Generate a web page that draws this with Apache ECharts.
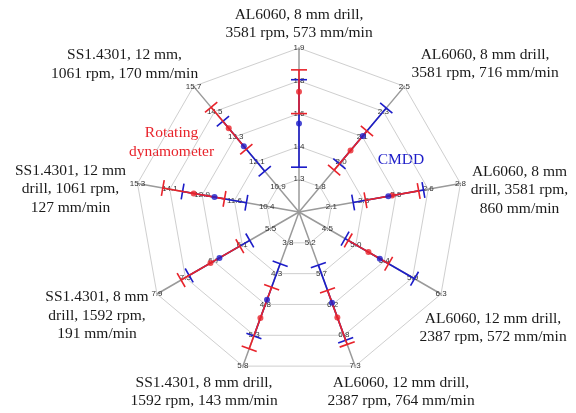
<!DOCTYPE html>
<html><head><meta charset="utf-8">
<script src="https://cdn.jsdelivr.net/npm/echarts@6/dist/echarts.min.js"></script>
<style>html,body{margin:0;padding:0;background:#fff}#c{width:576px;height:413px}</style>
</head><body><div id="c"></div>
<script>
// Axes in clockwise order starting at the top
const categories = [
  'AL6060, 8 mm drill,\n3581 rpm, 573 mm/min',
  'AL6060, 8 mm drill,\n3581 rpm, 716 mm/min',
  'AL6060, 8 mm\ndrill, 3581 rpm,\n860 mm/min',
  'AL6060, 12 mm drill,\n2387 rpm, 572 mm/min',
  'AL6060, 12 mm drill,\n2387 rpm, 764 mm/min',
  'SS1.4301, 8 mm drill,\n1592 rpm, 143 mm/min',
  'SS1.4301, 8 mm\ndrill, 1592 rpm,\n191 mm/min',
  'SS1.4301, 12 mm\ndrill, 1061 rpm,\n127 mm/min',
  'SS1.4301, 12 mm,\n1061 rpm, 170 mm/min'
];
const axisMin = [1.15, 1.6, 1.95, 4.05, 4.675, 3.3, 4.9, 9.175, 9.7];
const axisMax = [1.9, 2.5, 2.8, 6.3, 7.3, 5.8, 7.9, 15.3, 15.7];
const tickLabels = [
  ['1.3','1.4','1.6','1.8','1.9'],
  ['1.8','2.0','2.1','2.3','2.5'],
  ['2.1','2.3','2.5','2.6','2.8'],
  ['4.5','5.0','5.4','5.9','6.3'],
  ['5.2','5.7','6.2','6.8','7.3'],
  ['3.8','4.3','4.8','5.3','5.8'],
  ['5.5','6.1','6.7','7.3','7.9'],
  ['10.4','11.6','12.9','14.1','15.3'],
  ['10.9','12.1','13.3','14.5','15.7']
];
// Rotating dynamometer (red)
const dynoMean = [1.70, 2.04, 2.44, 5.15, 6.47, 5.02, 6.77, 13.17, 13.70];
const dynoErr  = [0.10, 0.14, 0.14, 0.32, 0.46, 0.50, 0.62, 1.17, 1.00];
// CMDD (blue)
const cmddMean = [1.555, 2.145, 2.42, 5.33, 6.22, 4.725, 6.58, 12.38, 12.84];
const cmddErr  = [0.20, 0.20, 0.185, 0.55, 0.64, 0.585, 0.64, 1.21, 1.19];

const RED = '#e8232b', BLUE = '#1c1cc8';
const CENTER = [299, 212], RADIUS = 164;
const N = categories.length;

// radar goes counter-clockwise: reorder so indicators appear clockwise
const order = [0];
for (let k = N - 1; k >= 1; k--) order.push(k);

const indicator = order.map(i => ({
  name: '',
  min: axisMin[i], max: axisMax[i],
  axisLabel: {
    formatter: function (v) {
      const step = (axisMax[i] - axisMin[i]) / 5;
      const k = Math.round((v - axisMin[i]) / step);
      return k >= 1 ? tickLabels[i][k - 1] : '';
    }
  }
}));

const polar = [], angleAxis = [], radiusAxis = [], series = [];
for (let i = 0; i < N; i++) {
  polar.push({ center: CENTER, radius: RADIUS });
  angleAxis.push({ polarIndex: i, type: 'value', min: 0, max: N, startAngle: 90, clockwise: true, show: false });
  radiusAxis.push({ polarIndex: i, type: 'value', min: axisMin[i], max: axisMax[i], show: false });
}

function barRender(color) {
  return function (params, api) {
    const m = api.value(0), a = api.value(1), e = api.value(2);
    const p0 = api.coord([m - e, a]);
    const p1 = api.coord([m + e, a]);
    const dx = p1[0] - p0[0], dy = p1[1] - p0[1];
    const len = Math.sqrt(dx * dx + dy * dy) || 1;
    const nx = -dy / len * 8, ny = dx / len * 8;
    const st = { stroke: color, lineWidth: 1.6 };
    return { type: 'group', children: [
      { type: 'line', shape: { x1: p0[0], y1: p0[1], x2: p1[0], y2: p1[1] }, style: st },
      { type: 'line', shape: { x1: p0[0] - nx, y1: p0[1] - ny, x2: p0[0] + nx, y2: p0[1] + ny }, style: st },
      { type: 'line', shape: { x1: p1[0] - nx, y1: p1[1] - ny, x2: p1[0] + nx, y2: p1[1] + ny }, style: st }
    ]};
  };
}

for (let i = 0; i < N; i++) {
  series.push({ type: 'custom', coordinateSystem: 'polar', polarIndex: i, clip: false, z: 2, silent: true,
    renderItem: barRender(BLUE), data: [[cmddMean[i], i, cmddErr[i]]] });
  series.push({ type: 'custom', coordinateSystem: 'polar', polarIndex: i, clip: false, z: 3, silent: true,
    renderItem: barRender(RED), data: [[dynoMean[i], i, dynoErr[i]]] });
  series.push({ type: 'scatter', coordinateSystem: 'polar', polarIndex: i, z: 4, symbolSize: 6, silent: true,
    itemStyle: { color: RED }, data: [[dynoMean[i], i]] });
  series.push({ type: 'scatter', coordinateSystem: 'polar', polarIndex: i, z: 5, symbolSize: 6, silent: true,
    itemStyle: { color: BLUE }, data: [[cmddMean[i], i]] });
}

const namePos = [[299, 24], [485, 64], [519.5, 190], [493, 328], [401, 392], [204, 392], [97, 315.5], [70.5, 189.3], [124.5, 64.5]];
const FONT = '15.5px "Liberation Serif", "Times New Roman", serif';
const graphic = categories.map((t, i) => ({
  type: 'text', x: namePos[i][0], y: namePos[i][1], silent: true,
  style: { text: t, font: FONT, fill: '#1a1a1a', align: 'center', verticalAlign: 'middle', lineHeight: 18.5 }
}));
graphic.push({ type: 'text', x: 171.5, y: 142.5, silent: true,
  style: { text: 'Rotating\ndynamometer', font: FONT, fill: RED, align: 'center', verticalAlign: 'middle', lineHeight: 18.5 } });
graphic.push({ type: 'text', x: 401, y: 159.5, silent: true,
  style: { text: 'CMDD', font: FONT, fill: BLUE, align: 'center', verticalAlign: 'middle' } });

const chart = echarts.init(document.getElementById('c'), null, { renderer: 'canvas' });
chart.setOption({
  animation: false,
  backgroundColor: '#fff',
  radar: {
    center: CENTER, radius: RADIUS, startAngle: 90, splitNumber: 5, shape: 'polygon',
    indicator: indicator,
    axisName: { show: false },
    axisLine: { lineStyle: { color: '#9a9a9a', width: 1.5 } },
    splitLine: { lineStyle: { color: '#cfcfcf', width: 1 } },
    splitArea: { show: false },
    axisTick: { show: false },
    axisLabel: { show: true, fontSize: 8, color: '#333', margin: 0, align: 'center', verticalAlign: 'middle',
      fontFamily: 'Liberation Sans, Arial, sans-serif' }
  },
  polar: polar, angleAxis: angleAxis, radiusAxis: radiusAxis,
  series: series,
  graphic: graphic
});
</script></body></html>
